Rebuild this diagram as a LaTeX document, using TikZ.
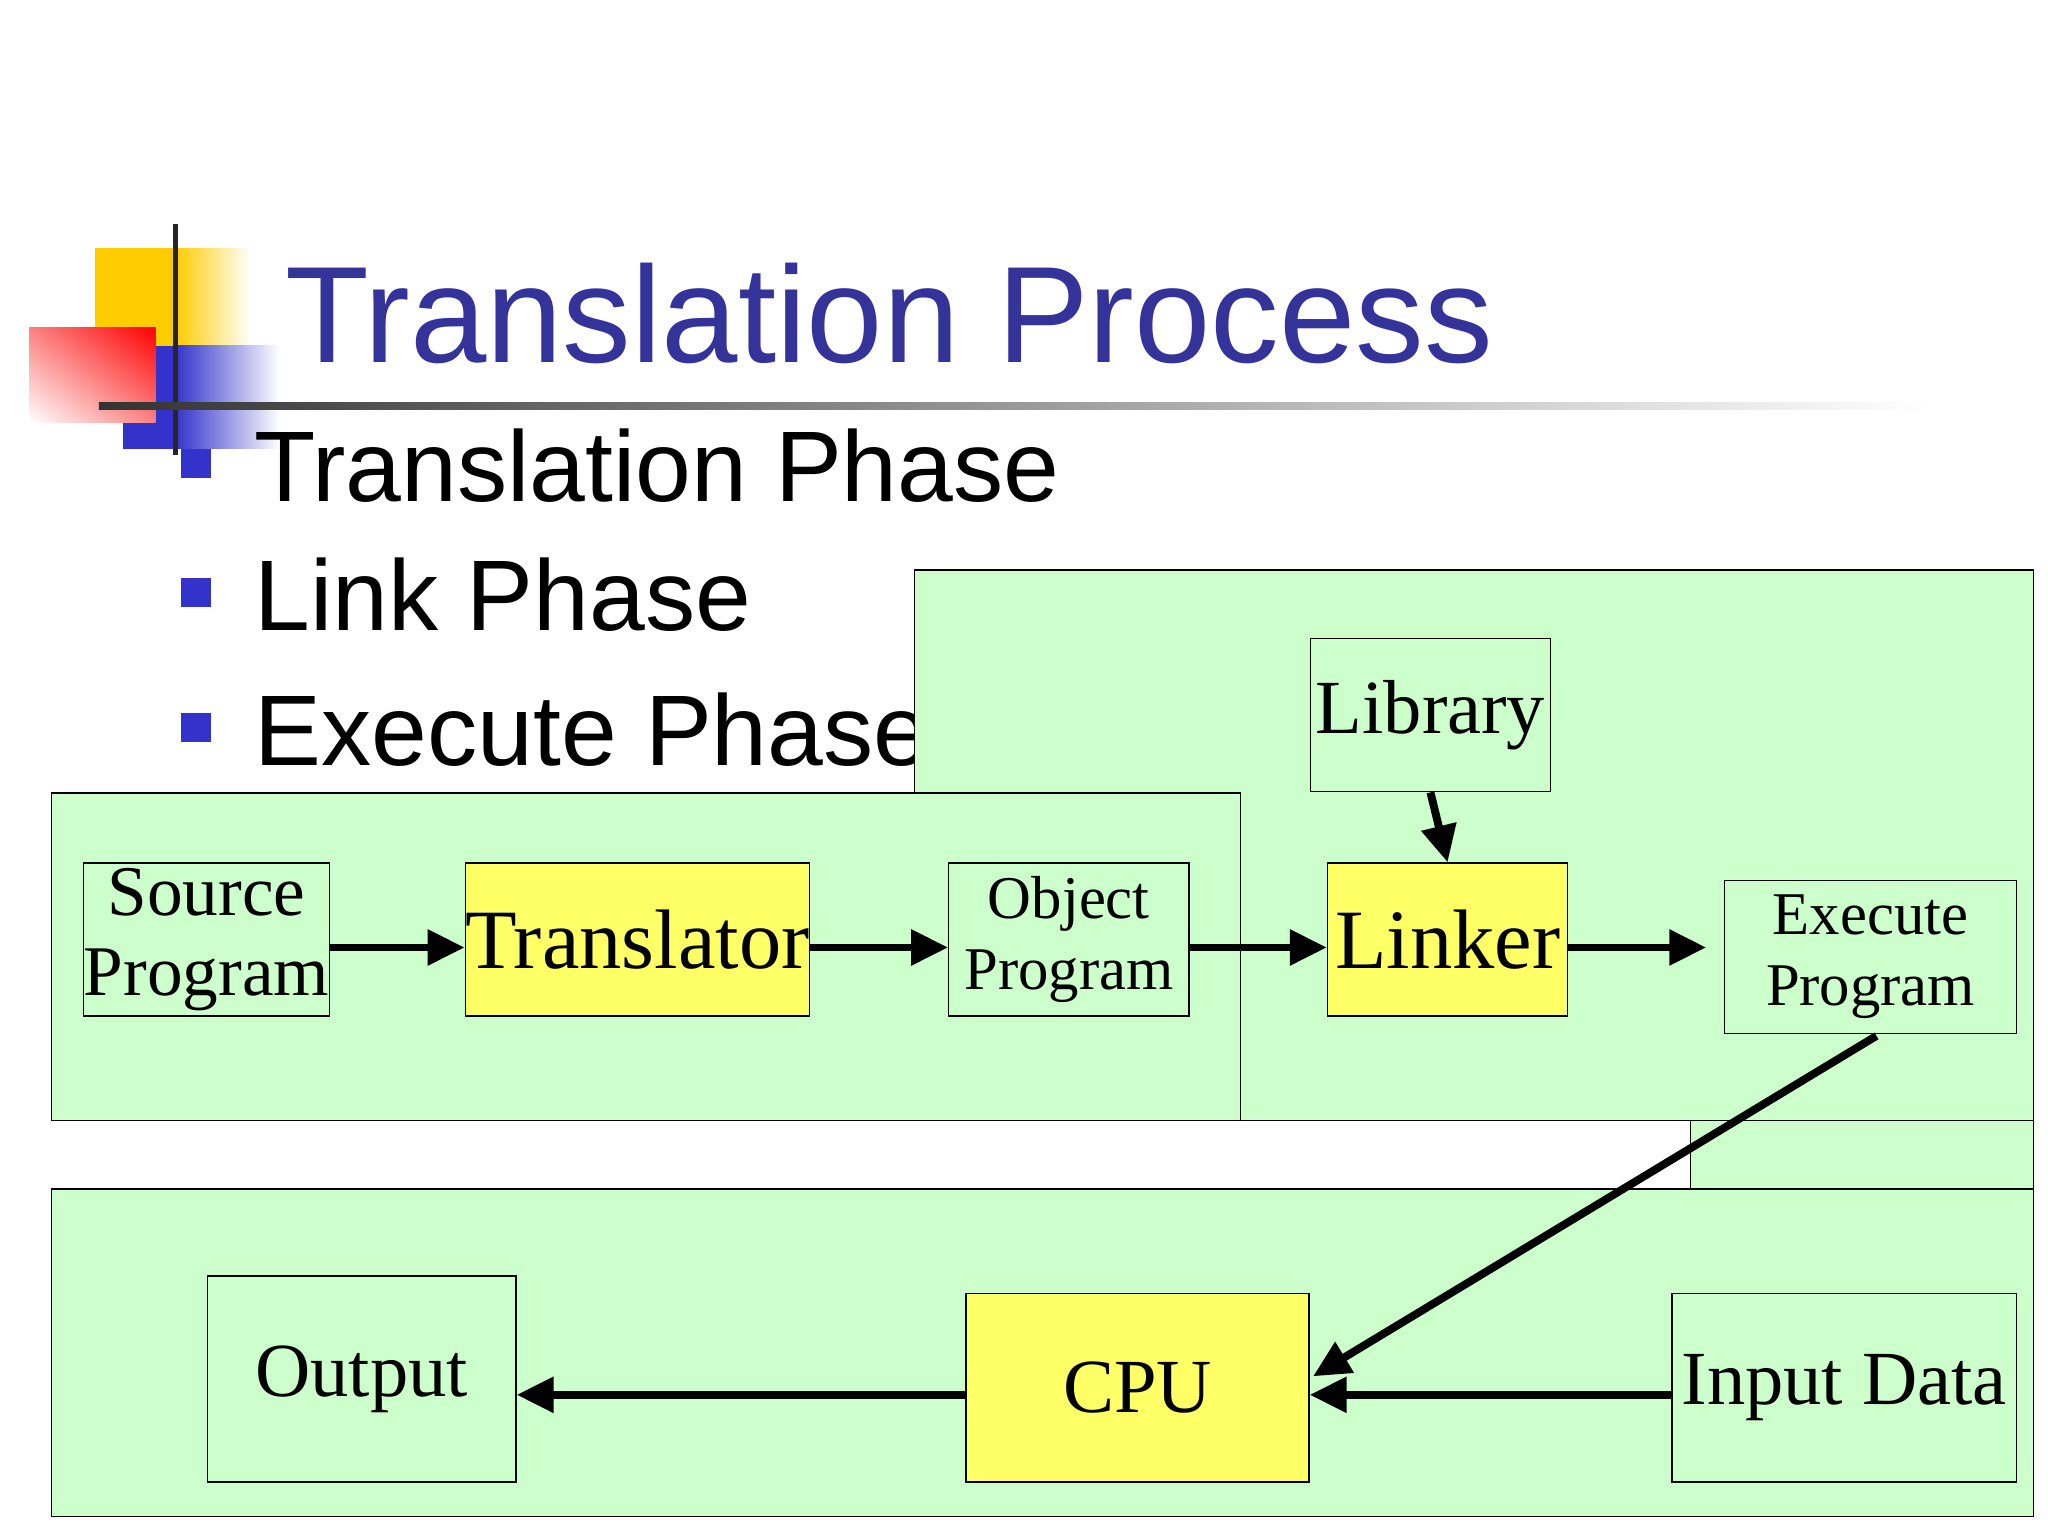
\documentclass[tikz,border=0pt]{standalone}
\usepackage{fontspec}
\setmainfont{Liberation Serif}
\newfontfamily\sans{Liberation Sans}
\usetikzlibrary{arrows.meta,shadings}
\definecolor{pg}{RGB}{204,255,204}
\definecolor{py}{RGB}{255,255,102}
\definecolor{tb}{RGB}{51,51,153}
\definecolor{bb}{RGB}{51,51,204}
\definecolor{lr}{RGB}{250,130,130}
\definecolor{gold}{RGB}{255,204,0}
\begin{document}
\begin{tikzpicture}[x=1pt,y=-1pt,
 panel/.style={draw=black,fill=pg,line width=1pt},
 box/.style={draw=black,line width=1pt,inner sep=0pt,align=center},
 g/.style={box,fill=pg},
 yel/.style={box,fill=py},
 arr/.style={line width=6pt,-{Triangle[length=28pt,width=26pt]}}]
\useasboundingbox (0,0) rectangle (1552,1164);
% decor
\fill[gold] (72,188) rectangle (133,305);
\shade[left color=gold,right color=white] (133,188) rectangle (190,305);
\fill[bb] (93,262) rectangle (133,340);
\shade[left color=bb,right color=white] (133,262) rectangle (212,340);
\shade[lower left=white,upper right=red,lower right=lr,upper left=lr] (22,248) rectangle (118,320);
\draw[line width=4pt,black!85] (133,170) -- (133,345);
\shade[left color=black!80,right color=white] (75,305) rectangle (1460,310);
\node[anchor=base west,text=tb,font=\sans\fontsize{104}{110}\selectfont] (title) at (213,275) {Translation Process};
\foreach \yy/\t/\n in {380/Translation Phase/b1,478/Link Phase/b2,580/Execute Phase/b3}{
 \fill[bb] (137,\yy-40) rectangle (160,\yy-18);
 \node[anchor=base west,font=\sans\fontsize{76}{80}\selectfont,inner sep=0pt] (\n) at (193,\yy) {\t};}
% panels
\draw[panel] (693,432) rectangle (1541,849);
\draw[panel] (1281,849) rectangle (1541,901);
\draw[panel] (39,601) rectangle (940,849);
\draw[panel] (39,901) rectangle (1541,1149);
% nodes
\node[g,minimum width=183pt,minimum height=116pt,font=\fontsize{54}{60}\selectfont] (src) at (156.5,712) {Source\\Program};
\node[yel,minimum width=260pt,minimum height=116pt,font=\fontsize{64}{70}\selectfont] (tr) at (483,712) {Translator};
\node[g,minimum width=182pt,minimum height=116pt,font=\fontsize{46}{54}\selectfont] (obj) at (810,712) {Object\\Program};
\node[g,minimum width=182pt,minimum height=116pt,font=\fontsize{58}{64}\selectfont] (lib) at (1084,542) {Library};
\node[yel,minimum width=182pt,minimum height=116pt,font=\fontsize{64}{70}\selectfont] (lnk) at (1097,712) {Linker};
\node[g,minimum width=221pt,minimum height=116pt,font=\fontsize{46}{54}\selectfont] (exe) at (1417.5,725) {Execute\\Program};
\node[g,minimum width=234pt,minimum height=156pt,font=\fontsize{58}{64}\selectfont] (out) at (274,1045) {Output};
\node[yel,minimum width=260pt,minimum height=143pt,font=\fontsize{58}{64}\selectfont] (cpu) at (862,1051.5) {CPU};
\node[g,minimum width=261pt,minimum height=143pt,font=\fontsize{58}{64}\selectfont] (in) at (1397.5,1051.5) {Input Data};
\coordinate (lend) at (1293,718);
\coordinate (estart) at (1422,785);
\coordinate (cin) at (995,1043);
% arrows
\draw[arr] (src.east|-0,718) -- (tr.west|-0,718);
\draw[arr] (tr.east|-0,718) -- (obj.west|-0,718);
\draw[arr] (obj.east|-0,718) -- (lnk.west|-0,718);
\draw[arr] (lib.south) -- (lnk.north);
\draw[arr] (lnk.east|-0,718) -- (lend);
\draw[arr] (estart) -- (cin);
\draw[arr] (in.west|-0,1057) -- (cpu.east|-0,1057);
\draw[arr] (cpu.west|-0,1057) -- (out.east|-0,1057);
\end{tikzpicture}
\end{document}
